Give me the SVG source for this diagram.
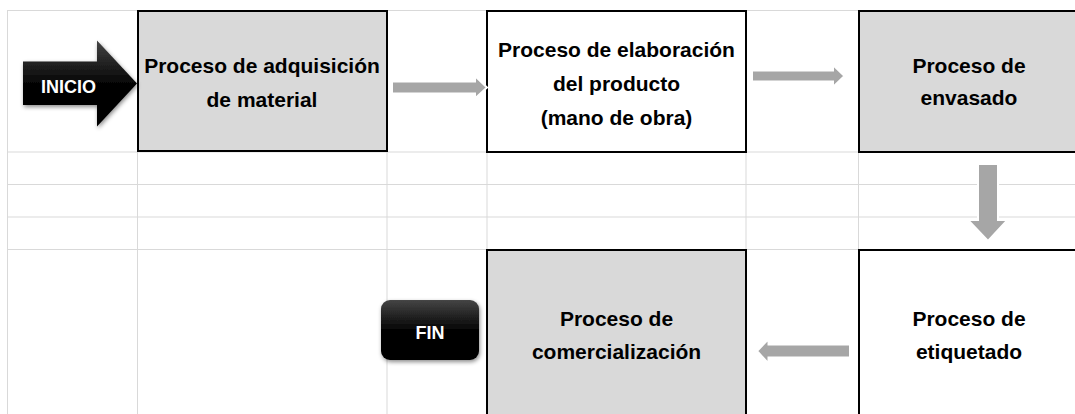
<svg xmlns="http://www.w3.org/2000/svg" width="1075" height="414" viewBox="0 0 1075 414">
<style>
.grid{stroke:#d9d9d9;stroke-width:1;fill:none}
.box{stroke:#000;stroke-width:2}
.gray{fill:#d9d9d9}
.white{fill:#fff}
.lbl{font-family:"Liberation Sans",Arial,sans-serif;font-weight:bold;font-size:21px;fill:#000;text-anchor:middle}
.btn{font-family:"Liberation Sans",Arial,sans-serif;font-weight:bold;font-size:18px;fill:#fff;text-anchor:middle}
.flow{fill:#a6a6a6;stroke:#fff;stroke-width:2}
</style>
<defs>
<linearGradient id="blk" x1="0" y1="0" x2="0" y2="1">
<stop offset="0" stop-color="#454545"/>
<stop offset="0.5" stop-color="#050505"/>
<stop offset="1" stop-color="#000"/>
</linearGradient>
<filter id="sh" x="-20%" y="-20%" width="140%" height="140%">
<feDropShadow dx="1" dy="2" stdDeviation="2" flood-color="#000" flood-opacity="0.45"/>
</filter>
</defs>
<rect width="1075" height="414" fill="#fff"/>
<g id="grid">
<path class="grid" d="M7.5 10V414M137.5 10V414M387 10V414M487 10V414M746 10V414M858.5 10V414"/>
<path class="grid" d="M7 10.5H1075M7 152H1075M7 184.5H1075M7 217H1075M7 249.5H1075"/>
</g>
<g id="node-adquisicion">
<rect class="box gray" x="138" y="11" width="249" height="140"/>
<text class="lbl" x="262" y="73">Proceso de adquisición</text>
<text class="lbl" x="262" y="106.5">de material</text>
</g>
<g id="node-elaboracion">
<rect class="box white" x="487" y="11" width="259" height="141"/>
<text class="lbl" x="616.5" y="56.5">Proceso de elaboración</text>
<text class="lbl" x="616.5" y="91">del producto</text>
<text class="lbl" x="616.5" y="125">(mano de obra)</text>
</g>
<g id="node-envasado">
<rect class="box gray" x="859" y="11" width="230" height="141"/>
<text class="lbl" x="969" y="73">Proceso de</text>
<text class="lbl" x="969" y="105">envasado</text>
</g>
<g id="node-comercializacion">
<rect class="box gray" x="487" y="250" width="259" height="180"/>
<text class="lbl" x="616.5" y="326">Proceso de</text>
<text class="lbl" x="616.5" y="359">comercialización</text>
</g>
<g id="node-etiquetado">
<rect class="box white" x="859" y="250" width="230" height="180"/>
<text class="lbl" x="969" y="326">Proceso de</text>
<text class="lbl" x="969" y="358.5">etiquetado</text>
</g>
<g id="node-inicio">
<path d="M23 61.5H97V40.5L137 83.5L97 126.5V105H23Z" fill="url(#blk)" filter="url(#sh)"/>
<text class="btn" x="68.5" y="93">INICIO</text>
</g>
<g id="node-fin">
<rect x="381" y="300" width="98" height="60" rx="9" fill="url(#blk)" filter="url(#sh)"/>
<text class="btn" x="430" y="339">FIN</text>
</g>
<g id="connectors">
<path class="flow" d="M392 81.5H475V76L487 87.5L475 98.5V93.5H392Z"/>
<path class="flow" d="M752 70.5H833V65L844.5 76L833 87V81.5H752Z"/>
<path class="flow" d="M978 164H998V220H1007.5L988 241L968 220H978Z"/>
<path class="flow" d="M850 344.5H768.5V339L757 351L768.5 363.5V357.5H850Z"/>
</g>
</svg>
